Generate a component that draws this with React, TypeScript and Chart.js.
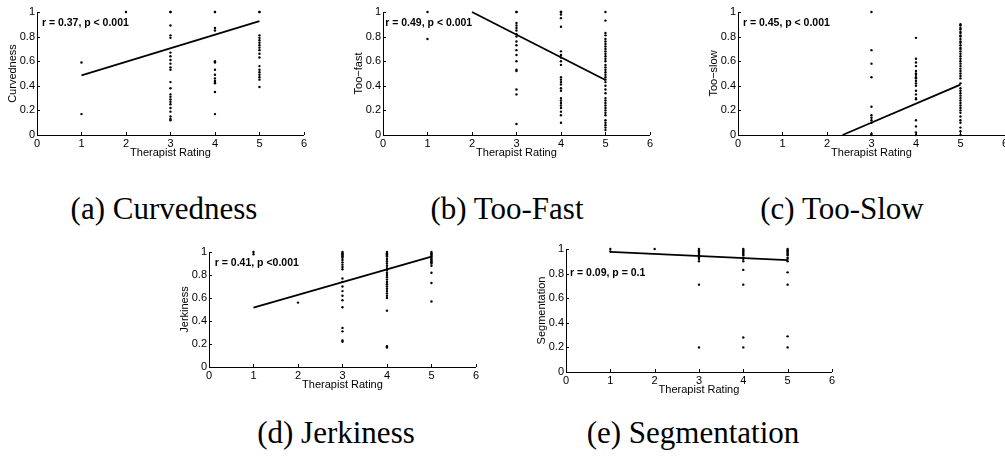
import React, { useEffect, useRef } from "react";
import { Chart, registerables } from "chart.js";

Chart.register(...registerables);

// ---------- data ----------
const ratingTicks = [0, 1, 2, 3, 4, 5, 6];
const scoreTicks = [0, 0.2, 0.4, 0.6, 0.8, 1];

// values grouped by therapist rating 1..5
const curvednessByRating: number[][] = [
  [0.59, 0.17],
  [1.0],
  [1.0, 1.0, 0.89, 0.81, 0.79, 0.67, 0.64, 0.61, 0.58, 0.55, 0.53, 0.43, 0.38, 0.33, 0.31, 0.29, 0.27, 0.25, 0.22, 0.19, 0.15, 0.13, 0.12],
  [1.0, 1.0, 0.87, 0.85, 0.6, 0.59, 0.53, 0.49, 0.46, 0.44, 0.43, 0.42, 0.35, 0.17],
  [1.0, 1.0, 0.81, 0.79, 0.77, 0.75, 0.73, 0.71, 0.69, 0.66, 0.63, 0.56, 0.53, 0.51, 0.49, 0.47, 0.45, 0.39],
];
const curvednessFitX = [1, 5];
const curvednessFitY = [0.485, 0.925];

const tooFastByRating: number[][] = [
  [1.0, 0.78],
  [],
  [1.0, 1.0, 0.91, 0.89, 0.87, 0.85, 0.82, 0.8, 0.76, 0.73, 0.69, 0.65, 0.6, 0.53, 0.52, 0.37, 0.33, 0.09],
  [1.0, 1.0, 1.0, 0.98, 0.95, 0.88, 0.68, 0.65, 0.63, 0.6, 0.57, 0.47, 0.45, 0.43, 0.41, 0.38, 0.36, 0.3, 0.28, 0.26, 0.24, 0.22, 0.19, 0.16, 0.1],
  [1.0, 0.93, 0.83, 0.81, 0.78, 0.76, 0.74, 0.72, 0.7, 0.68, 0.66, 0.64, 0.62, 0.6, 0.57, 0.55, 0.53, 0.51, 0.49, 0.47, 0.45, 0.43, 0.4, 0.37, 0.34, 0.3, 0.28, 0.26, 0.24, 0.22, 0.2, 0.18, 0.16, 0.12, 0.1, 0.08, 0.06, 0.04],
];
const tooFastFitX = [2, 5];
const tooFastFitY = [1.0, 0.447];

const tooSlowByRating: number[][] = [
  [],
  [],
  [1.0, 0.69, 0.58, 0.47, 0.23, 0.16, 0.14, 0.12, 0.1, 0.01, 0.0],
  [0.79, 0.62, 0.59, 0.56, 0.52, 0.5, 0.49, 0.47, 0.46, 0.44, 0.42, 0.4, 0.36, 0.33, 0.3, 0.29, 0.12, 0.07, 0.02, 0.0],
  [0.9, 0.89, 0.87, 0.86, 0.84, 0.83, 0.81, 0.8, 0.78, 0.76, 0.75, 0.73, 0.71, 0.7, 0.68, 0.66, 0.64, 0.62, 0.6, 0.58, 0.56, 0.54, 0.52, 0.5, 0.48, 0.46, 0.42, 0.38, 0.36, 0.34, 0.32, 0.3, 0.28, 0.26, 0.24, 0.22, 0.2, 0.18, 0.15, 0.12, 0.1, 0.06, 0.03, 0.0],
];
const tooSlowFitX = [2.35, 5];
const tooSlowFitY = [0.0, 0.41];

const jerkinessByRating: number[][] = [
  [1.0, 0.98],
  [0.56],
  [1.0, 0.99, 0.98, 0.97, 0.96, 0.95, 0.93, 0.91, 0.89, 0.87, 0.85, 0.77, 0.74, 0.7, 0.66, 0.62, 0.58, 0.52, 0.34, 0.31, 0.23, 0.22],
  [1.0, 0.99, 0.98, 0.97, 0.96, 0.94, 0.92, 0.9, 0.88, 0.86, 0.84, 0.82, 0.8, 0.78, 0.76, 0.74, 0.72, 0.7, 0.68, 0.66, 0.64, 0.62, 0.6, 0.49, 0.18, 0.17],
  [1.0, 0.99, 0.98, 0.97, 0.96, 0.95, 0.94, 0.93, 0.92, 0.91, 0.9, 0.88, 0.82, 0.73, 0.57],
];
const jerkinessFitX = [1, 5];
const jerkinessFitY = [0.517, 0.959];

const segmentationByRating: number[][] = [
  [1.0, 0.98],
  [1.0],
  [1.0, 0.99, 0.98, 0.97, 0.96, 0.95, 0.93, 0.92, 0.9, 0.71, 0.2],
  [1.0, 0.99, 0.98, 0.97, 0.96, 0.95, 0.93, 0.92, 0.9, 0.83, 0.71, 0.28, 0.2],
  [1.0, 0.99, 0.98, 0.97, 0.96, 0.95, 0.93, 0.92, 0.9, 0.81, 0.71, 0.29, 0.2],
];
const segmentationFitX = [1, 5];
const segmentationFitY = [0.976, 0.91];

const xTitle = "Therapist Rating";

// ---------- layout ----------
type PanelCfg = {
  byRating: number[][];
  fitX: number[];
  fitY: number[];
  yTitle: string;
  note: string;
  noteX: number;
  noteY: number;
  caption: string;
  captionCenter: number;
  captionTop: number;
  L: number;
  T: number;
  R: number;
  B: number;
};

const panels: PanelCfg[] = [
  { byRating: curvednessByRating, fitX: curvednessFitX, fitY: curvednessFitY, yTitle: "Curvedness", note: "r = 0.37, p < 0.001", noteX: 0.11, noteY: 0.91, caption: "(a) Curvedness", captionCenter: 164, captionTop: 193, L: 37, T: 12, R: 304, B: 135 },
  { byRating: tooFastByRating, fitX: tooFastFitX, fitY: tooFastFitY, yTitle: "Too\u2212fast", note: "r = 0.49, p < 0.001", noteX: 0.05, noteY: 0.91, caption: "(b) Too-Fast", captionCenter: 507, captionTop: 193, L: 383, T: 12, R: 650, B: 135 },
  { byRating: tooSlowByRating, fitX: tooSlowFitX, fitY: tooSlowFitY, yTitle: "Too\u2212slow", note: "r = 0.45, p < 0.001", noteX: 0.11, noteY: 0.91, caption: "(c) Too-Slow", captionCenter: 842, captionTop: 193, L: 738, T: 12, R: 1005, B: 135 },
  { byRating: jerkinessByRating, fitX: jerkinessFitX, fitY: jerkinessFitY, yTitle: "Jerkiness", note: "r = 0.41, p <0.001", noteX: 0.13, noteY: 0.9, caption: "(d) Jerkiness", captionCenter: 336, captionTop: 417, L: 209, T: 252, R: 476, B: 367 },
  { byRating: segmentationByRating, fitX: segmentationFitX, fitY: segmentationFitY, yTitle: "Segmentation", note: "r = 0.09, p = 0.1", noteX: 0.09, noteY: 0.8, caption: "(e) Segmentation", captionCenter: 693, captionTop: 417, L: 566, T: 249, R: 832, B: 372 },
];

const SANS = '"Liberation Sans", Arial, Helvetica, sans-serif';
const Y_AXIS_W = 37;
const PAD_TOP = 12;
const PAD_RIGHT = 5;
const X_AXIS_H = 25;

const decorPlugin = {
  id: "decor",
  afterDraw(chart: any, _args: any, opts: any) {
    const { ctx, chartArea, scales } = chart;
    const xs = scales.x;
    const ys = scales.y;
    ctx.save();
    ctx.strokeStyle = "#000";
    ctx.lineWidth = 1;
    xs.ticks.forEach((t: any) => {
      const px = Math.round(xs.getPixelForValue(t.value)) + 0.5;
      ctx.beginPath();
      ctx.moveTo(px, chartArea.bottom);
      ctx.lineTo(px, chartArea.bottom - 3);
      ctx.stroke();
    });
    ys.ticks.forEach((t: any) => {
      const py = Math.round(ys.getPixelForValue(t.value)) + 0.5;
      ctx.beginPath();
      ctx.moveTo(chartArea.left, py);
      ctx.lineTo(chartArea.left + 3, py);
      ctx.stroke();
    });
    ctx.font = `bold 10.5px ${SANS}`;
    ctx.fillStyle = "#000";
    ctx.textAlign = "left";
    ctx.textBaseline = "middle";
    ctx.fillText(opts.text, xs.getPixelForValue(opts.x), ys.getPixelForValue(opts.y));
    ctx.restore();
  },
};

function Panel({ cfg }: { cfg: PanelCfg }) {
  const ref = useRef<HTMLCanvasElement>(null);
  const width = cfg.R - cfg.L + Y_AXIS_W + PAD_RIGHT;
  const height = cfg.B - cfg.T + PAD_TOP + X_AXIS_H;

  useEffect(() => {
    if (!ref.current) return;
    const points = cfg.byRating.flatMap((vals, i) => vals.map((v) => ({ x: i + 1, y: v })));
    const fit = cfg.fitX.map((x, i) => ({ x, y: cfg.fitY[i] }));
    const tickFont = { family: SANS, size: 11 };
    const chart = new Chart(ref.current, {
      type: "scatter",
      data: {
        datasets: [
          {
            data: points,
            showLine: false,
            pointRadius: 1.2,
            pointBorderWidth: 0,
            pointBackgroundColor: "#000",
            pointBorderColor: "#000",
            clip: false,
          } as any,
          {
            data: fit,
            showLine: true,
            borderColor: "#000",
            borderWidth: 1.8,
            pointRadius: 0,
            clip: false,
          } as any,
        ],
      },
      options: {
        responsive: false,
        animation: false,
        devicePixelRatio: 1,
        events: [],
        layout: { padding: { top: PAD_TOP, right: PAD_RIGHT, left: 0, bottom: 0 } },
        plugins: {
          legend: { display: false },
          tooltip: { enabled: false },
          decor: { text: cfg.note, x: cfg.noteX, y: cfg.noteY },
        } as any,
        scales: {
          x: {
            type: "linear",
            min: 0,
            max: 6,
            afterBuildTicks: (s: any) => {
              s.ticks = ratingTicks.map((v) => ({ value: v }));
            },
            afterFit: (s: any) => {
              s.height = X_AXIS_H;
            },
            grid: { display: false, drawTicks: false, tickLength: 0 },
            border: { display: true, color: "#000", width: 1 },
            ticks: {
              padding: 2,
              color: "#000",
              font: tickFont,
              maxRotation: 0,
              autoSkip: false,
              callback: (v: any) => String(v),
            },
            title: { display: true, text: xTitle, color: "#000", font: tickFont, padding: 0 },
          },
          y: {
            type: "linear",
            min: 0,
            max: 1,
            afterBuildTicks: (s: any) => {
              s.ticks = scoreTicks.map((v) => ({ value: v }));
            },
            afterFit: (s: any) => {
              s.width = Y_AXIS_W;
            },
            grid: { display: false, drawTicks: false, tickLength: 0 },
            border: { display: true, color: "#000", width: 1 },
            ticks: {
              padding: 2,
              color: "#000",
              font: tickFont,
              autoSkip: false,
              callback: (v: any) => String(Math.round(Number(v) * 10) / 10),
            },
            title: { display: true, text: cfg.yTitle, color: "#000", font: tickFont, padding: { top: 6, bottom: 0 } },
          },
        },
      } as any,
      plugins: [decorPlugin as any],
    });
    return () => chart.destroy();
  }, [cfg]);

  return (
    <canvas
      ref={ref}
      width={width}
      height={height}
      style={{ position: "absolute", left: cfg.L - Y_AXIS_W, top: cfg.T - PAD_TOP, width, height }}
    />
  );
}

export default function App() {
  return (
    <div
      style={{
        position: "fixed",
        left: 0,
        top: 0,
        width: 1005,
        height: 464,
        overflow: "hidden",
        background: "#fff",
      }}
    >
      {panels.map((p, i) => (
        <Panel key={i} cfg={p} />
      ))}
      {panels.map((p, i) => (
        <div
          key={"c" + i}
          style={{
            position: "absolute",
            left: p.captionCenter - 200,
            top: p.captionTop,
            width: 400,
            textAlign: "center",
            fontFamily: '"Liberation Serif", "Times New Roman", serif',
            fontSize: 31,
            lineHeight: "31px",
            whiteSpace: "nowrap",
            color: "#000",
          }}
        >
          {p.caption}
        </div>
      ))}
    </div>
  );
}
